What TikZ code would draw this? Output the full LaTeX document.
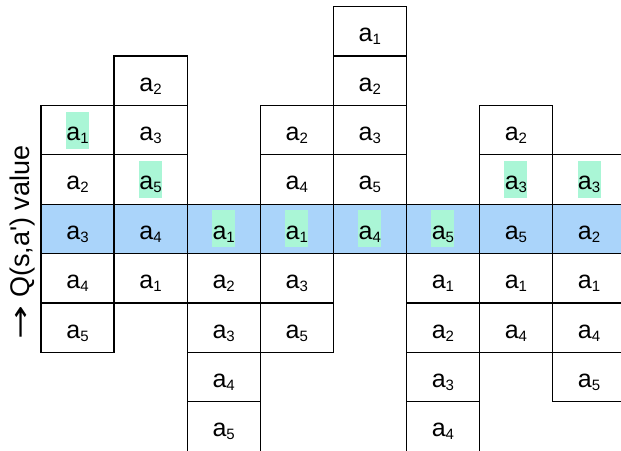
\documentclass[tikz,border=0pt]{standalone}
\usepackage{fontspec}
\setmainfont{Liberation Sans}
\newfontfamily\arrowfont{DejaVu Sans}
\definecolor{bandblue}{RGB}{170,212,250}
\definecolor{hlgreen}{RGB}{170,246,214}
\newcommand\asub[1]{a\raisebox{-3pt}{\fontsize{15}{15}\selectfont #1}}
\begin{document}
\begin{tikzpicture}[x=1pt,y=-1pt,
  cell/.style={draw, line width=1.2pt, minimum width=73.07pt, minimum height=49.4pt,
    inner sep=0pt, outer sep=0pt, anchor=north west},
  txt/.style={minimum width=23pt, text height=29pt, text depth=8pt, inner sep=0pt,
    font=\fontsize{25}{25}\selectfont}]
\useasboundingbox (0,0) rectangle (621,450);
\clip (0,0) rectangle (621,450);
\fill[bandblue] (41,204.1) rectangle (621,253.5);
\foreach \col/\start/\items in {
  1/2/{1/hlgreen,2/none,3/none,4/none,5/none},
  2/1/{2/none,3/none,5/hlgreen,4/none,1/none},
  3/4/{1/hlgreen,2/none,3/none,4/none,5/none},
  4/2/{2/none,4/none,1/hlgreen,3/none,5/none},
  5/0/{1/none,2/none,3/none,5/none,4/hlgreen},
  6/4/{5/hlgreen,1/none,2/none,3/none,4/none},
  7/2/{2/none,3/hlgreen,5/none,1/none,4/none},
  8/3/{3/hlgreen,2/none,1/none,4/none,5/none}}{
  \foreach \lab/\h [count=\i from 0] in \items {
    \node[cell] (c\col-\i) at ({41+73.07*(\col-1)},{6.5+49.4*(\start+\i)}) {};
    \node[txt, fill=\h] (t\col-\i) at (c\col-\i.center) {\asub{\lab}};
  }
}
\node (lbl) [rotate=90, font=\fontsize{27}{27}\selectfont] at (22.5,242.5)
  {{\arrowfont\scalebox{1.5}[1]{→}} Q(s,a\textquotesingle) value};
\end{tikzpicture}
\end{document}
